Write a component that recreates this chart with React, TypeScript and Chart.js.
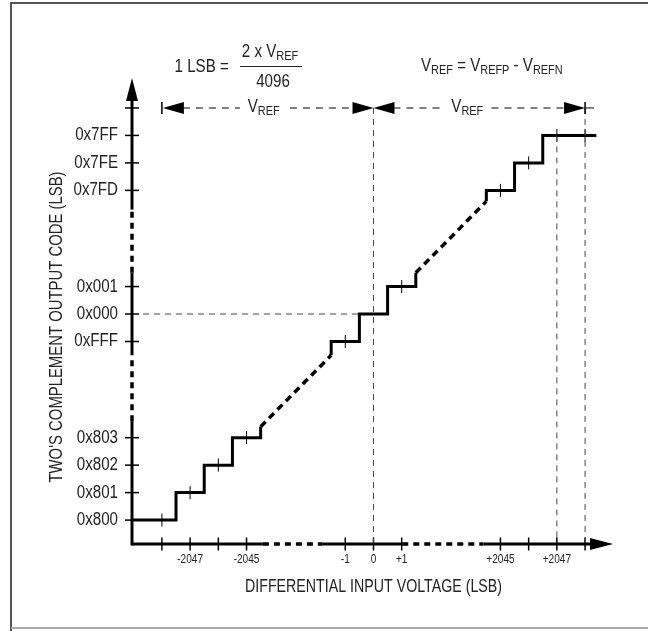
import React, { useEffect, useRef } from "react";
import { Chart, registerables } from "chart.js";
Chart.register(...registerables);

// ---------- data ----------
// output codes (two's complement, signed) shown on the vertical axis
const codeValues = [-2048, -2047, -2046, -2045, -1, 0, 1, 2045, 2046, 2047, 2048];
const codeLabels = ["0x800", "0x801", "0x802", "0x803", "0xFFF", "0x000", "0x001", "0x7FD", "0x7FE", "0x7FF", ""];
// differential input (LSB) ticks on the horizontal axis
const inputValues = [-2048, -2047, -2046, -2045, -1, 0, 1, 2045, 2046, 2047, 2048];
const inputLabels = ["", "-2047", "", "-2045", "-1", "0", "+1", "+2045", "", "+2047", ""];
// codes drawn as solid staircase sections
const lowCodes = [-2048, -2047, -2046, -2045];
const midCodes = [-1, 0, 1];
const highCodes = [2045, 2046, 2047];
// small marks on the staircase: input (LSB) and code
const markInputs = [-2048, -2047, -2046, -2045, -1, 1, 2045, 2046, 2047, 2048];
const markCodes = [-2048, -2047, -2046, -2045, -1, 1, 2045, 2046, 2047, 2047];

const FONT = "'Liberation Sans', Arial, sans-serif";
const SX = 0.84; // horizontal condensing of the text

// broken-axis mapping: LSB value -> plot position
function brk(v: number): number {
  if (v <= -2044.5) return v + 2040.5;
  if (v >= 2044.5) return v - 2040.5;
  if (v >= -1.5 && v <= 1.5) return v;
  if (v < 0) return -4 + (v + 2044.5) * (2.5 / 2043);
  return 1.5 + (v - 1.5) * (2.5 / 2043);
}

const X_MIN = -8.56, X_MAX = 8.49, Y_MIN = -8.37, Y_MAX = 8.59;

function stairs(codes: number[], from: number, to: number) {
  const pts: { x: number; y: number }[] = [];
  codes.forEach((c, i) => {
    const x0 = i === 0 ? from : c - 0.5;
    const x1 = i === codes.length - 1 ? to : c + 0.5;
    pts.push({ x: x0, y: c }, { x: x1, y: c });
  });
  return pts;
}
const P = (pts: { x: number; y: number }[]) => pts.map((p) => ({ x: brk(p.x), y: brk(p.y) }));

function text(ctx: CanvasRenderingContext2D, t: string, x: number, y: number, align: CanvasTextAlign, size: number, sx = SX) {
  ctx.save();
  ctx.font = `${size}px ${FONT}`;
  ctx.textAlign = align;
  ctx.textBaseline = "middle";
  ctx.translate(x, y);
  ctx.scale(sx, 1);
  ctx.fillText(t, 0, 0);
  ctx.restore();
}

function drawParts(ctx: CanvasRenderingContext2D, parts: [string, boolean][], x: number, y: number, align: "left" | "center" | "right", big = 18, small = 13) {
  const widths = parts.map(([t, sub]) => {
    ctx.font = `${sub ? small : big}px ${FONT}`;
    return ctx.measureText(t).width * SX;
  });
  const total = widths.reduce((a, b) => a + b, 0);
  let cx = align === "left" ? x : align === "center" ? x - total / 2 : x - total;
  parts.forEach(([t, sub], i) => {
    text(ctx, t, cx, sub ? y + 4 : y, "left", sub ? small : big);
    cx += widths[i];
  });
}

function fitText(ctx: CanvasRenderingContext2D, t: string, x: number, y: number, size: number, width: number) {
  ctx.font = `${size}px ${FONT}`;
  const w = ctx.measureText(t).width;
  text(ctx, t, x, y, "center", size, width / w);
}

const deco = {
  id: "deco",
  beforeDraw(chart: any) {
    const ctx = chart.ctx as CanvasRenderingContext2D;
    ctx.save();
    ctx.strokeStyle = "#555";
    ctx.lineWidth = 2;
    ctx.beginPath();
    ctx.moveTo(11, 631);
    ctx.lineTo(11, 3);
    ctx.lineTo(648, 3);
    ctx.stroke();
    ctx.strokeStyle = "#aaa";
    ctx.beginPath();
    ctx.moveTo(11, 628);
    ctx.lineTo(648, 628);
    ctx.stroke();
    ctx.restore();
  },
  afterDatasetsDraw(chart: any) {
    const ctx = chart.ctx as CanvasRenderingContext2D;
    const xs = chart.scales.x, ys = chart.scales.y;
    const X = (v: number) => xs.getPixelForValue(v);
    const Y = (v: number) => ys.getPixelForValue(v);
    const ax = X(X_MIN), ay = Y(Y_MIN);
    const topTip = Y(Y_MAX), rightTip = X(X_MAX);
    ctx.save();
    ctx.strokeStyle = "#000";
    ctx.fillStyle = "#000";
    ctx.lineCap = "butt";
    const seg = (x1: number, y1: number, x2: number, y2: number, dashed: boolean) => {
      ctx.beginPath();
      ctx.lineWidth = dashed ? 3.5 : 3;
      ctx.setLineDash(dashed ? [6, 5] : []);
      ctx.moveTo(x1, y1);
      ctx.lineTo(x2, y2);
      ctx.stroke();
    };
    // vertical axis
    seg(ax, ay + 1.5, ax, Y(-3.9), false);
    seg(ax, Y(-3.9), ax, Y(-1.5), true);
    seg(ax, Y(-1.5), ax, Y(1.5), false);
    seg(ax, Y(1.5), ax, Y(3.8), true);
    seg(ax, Y(3.8), ax, topTip + 18, false);
    // horizontal axis
    seg(ax, ay, X(-3.92), ay, false);
    seg(X(-3.92), ay, X(-1.8), ay, true);
    seg(X(-1.8), ay, X(1.02), ay, false);
    seg(X(1.02), ay, X(3.9), ay, true);
    seg(X(3.9), ay, rightTip - 18, ay, false);
    ctx.setLineDash([]);
    // arrowheads
    ctx.beginPath();
    ctx.moveTo(ax, topTip);
    ctx.lineTo(ax - 6, topTip + 23);
    ctx.lineTo(ax + 6, topTip + 23);
    ctx.closePath();
    ctx.fill();
    ctx.beginPath();
    ctx.moveTo(rightTip, ay);
    ctx.lineTo(rightTip - 23, ay - 6);
    ctx.lineTo(rightTip - 23, ay + 6);
    ctx.closePath();
    ctx.fill();

    // dimension line (VREF spans)
    const dy = Y(brk(2048));
    const xl = X(brk(-2048)), xc = X(brk(0)), xr = X(brk(2048));
    ctx.strokeStyle = "#555";
    ctx.lineWidth = 1.5;
    ctx.setLineDash([7, 6]);
    const dash = (a: number, b: number) => {
      ctx.beginPath();
      ctx.moveTo(a, dy);
      ctx.lineTo(b, dy);
      ctx.stroke();
    };
    dash(xl + 21, xl + 78);
    dash(xl + 128, xc - 20);
    dash(xc + 20, xc + 70);
    dash(xc + 118, xr - 20);
    ctx.setLineDash([]);
    dash(xr, xr + 9);
    ctx.strokeStyle = "#000";
    ctx.beginPath();
    ctx.moveTo(xl, dy - 6);
    ctx.lineTo(xl, dy + 6);
    ctx.moveTo(xr, dy - 6);
    ctx.lineTo(xr, dy + 6);
    ctx.stroke();
    const tri = (tip: number, dir: number) => {
      ctx.beginPath();
      ctx.moveTo(tip, dy);
      ctx.lineTo(tip + dir * 21, dy - 6);
      ctx.lineTo(tip + dir * 21, dy + 6);
      ctx.closePath();
      ctx.fill();
    };
    tri(xl + 1, 1);
    tri(xc, -1);
    tri(xc, 1);
    tri(xr, -1);

    ctx.fillStyle = "#222";
    // tick labels from the scales' ticks
    ys.ticks.forEach((t: any, i: number) => {
      if (codeLabels[i]) text(ctx, codeLabels[i], ax - 14, Y(t.value), "right", 18);
    });
    xs.ticks.forEach((t: any, i: number) => {
      if (inputLabels[i]) text(ctx, inputLabels[i], X(t.value), ay + 16, "center", 12);
    });

    // annotations
    drawParts(ctx, [["V", false], ["REF", true]], (xl + xc) / 2 - 4, dy - 1, "center");
    drawParts(ctx, [["V", false], ["REF", true]], (xc + xr) / 2 - 12, dy - 1, "center");
    drawParts(ctx, [["1 LSB = ", false]], 233, 67, "right");
    drawParts(ctx, [["2 x V", false], ["REF", true]], 270, 52, "center");
    ctx.strokeStyle = "#222";
    ctx.lineWidth = 1;
    ctx.beginPath();
    ctx.moveTo(240, 66.5);
    ctx.lineTo(302, 66.5);
    ctx.stroke();
    drawParts(ctx, [["4096", false]], 273, 82, "center");
    drawParts(ctx, [["V", false], ["REF", true], [" = V", false], ["REFP", true], [" - V", false], ["REFN", true]], 421, 66, "left");

    // axis titles
    fitText(ctx, "DIFFERENTIAL INPUT VOLTAGE (LSB)", xc, 587, 19, 257);
    ctx.save();
    ctx.translate(57, 327);
    ctx.rotate(-Math.PI / 2);
    fitText(ctx, "TWO'S COMPLEMENT OUTPUT CODE (LSB)", 0, 0, 19, 311);
    ctx.restore();
    ctx.restore();
  },
};

export default function App() {
  const ref = useRef<HTMLCanvasElement | null>(null);
  useEffect(() => {
    if (!ref.current) return;
    const low = [...stairs(lowCodes, -2049.06, -2044.5), { x: -2044.5, y: -2044.6 }];
    const mid = [{ x: -1.5, y: -1.5 }, ...stairs(midCodes, -1.5, 1.5), { x: 1.5, y: 1.5 }];
    const high = [{ x: 2044.5, y: 2044.6 }, ...stairs(highCodes, 2044.5, 2048.4)];
    const diagL = [{ x: -2044.5, y: -2044.6 }, { x: -1.5, y: -1.5 }];
    const diagR = [{ x: 1.5, y: 1.5 }, { x: 2044.5, y: 2044.6 }];
    const solid = (pts: any[]) => ({
      data: P(pts), showLine: true, borderColor: "#000", borderWidth: 3, pointRadius: 0,
      borderJoinStyle: "miter" as const, borderCapStyle: "butt" as const, tension: 0,
    });
    const dashed = (pts: any[]) => ({ ...solid(pts), borderWidth: 3.5, borderDash: [7, 5] });
    const ref0 = (pts: { x: number; y: number }[]) => ({
      data: pts, showLine: true, borderColor: "#444", borderWidth: 1, borderDash: [6, 5], pointRadius: 0, tension: 0,
    });
    const topPos = brk(2048);
    const chart = new Chart(ref.current, {
      type: "scatter",
      data: {
        datasets: [
          ref0([{ x: brk(0), y: topPos }, { x: brk(0), y: Y_MIN }]),
          ref0([{ x: brk(2047), y: brk(2047) }, { x: brk(2047), y: Y_MIN }]),
          ref0([{ x: brk(2048), y: topPos }, { x: brk(2048), y: Y_MIN }]),
          ref0([{ x: X_MIN, y: brk(0) }, { x: brk(-0.5), y: brk(0) }]),
          solid(low), solid(mid), solid(high), dashed(diagL), dashed(diagR),
          {
            data: markInputs.map((v, i) => ({ x: brk(v), y: brk(markCodes[i]) })),
            pointStyle: "line", rotation: 90, radius: 6.5, borderWidth: 1, borderColor: "#000", showLine: false,
          } as any,
          {
            data: codeValues.map((c) => ({ x: X_MIN, y: brk(c) })),
            pointStyle: "line", rotation: 0, radius: 7, borderWidth: 1.5, borderColor: "#000", showLine: false, clip: false,
          } as any,
          {
            data: inputValues.map((v) => ({ x: brk(v), y: Y_MIN })),
            pointStyle: "line", rotation: 90, radius: 6.5, borderWidth: 1.5, borderColor: "#000", showLine: false, clip: false,
          } as any,
        ] as any,
      },
      options: {
        animation: false,
        responsive: false,
        devicePixelRatio: 1,
        layout: { padding: { top: 78, right: 35, left: 0, bottom: 0 } },
        plugins: { legend: { display: false }, tooltip: { enabled: false } },
        events: [],
        scales: {
          x: {
            type: "linear", min: X_MIN, max: X_MAX,
            grid: { display: false, drawTicks: false }, border: { display: false },
            afterFit: (s: any) => { s.height = 87; },
            afterBuildTicks: (s: any) => { s.ticks = inputValues.map((v) => ({ value: brk(v) })); },
            ticks: { display: false, autoSkip: false },
          },
          y: {
            type: "linear", min: Y_MIN, max: Y_MAX,
            grid: { display: false, drawTicks: false }, border: { display: false },
            afterFit: (s: any) => { s.width = 132; },
            afterBuildTicks: (s: any) => { s.ticks = codeValues.map((c) => ({ value: brk(c) })); },
            ticks: { display: false, autoSkip: false },
          },
        },
      } as any,
      plugins: [deco],
    });
    return () => chart.destroy();
  }, []);
  return (
    <div style={{ position: "fixed", left: 0, top: 0, width: 648, height: 631, background: "#fff" }}>
      <canvas ref={ref} width={648} height={631} style={{ display: "block" }} />
    </div>
  );
}
